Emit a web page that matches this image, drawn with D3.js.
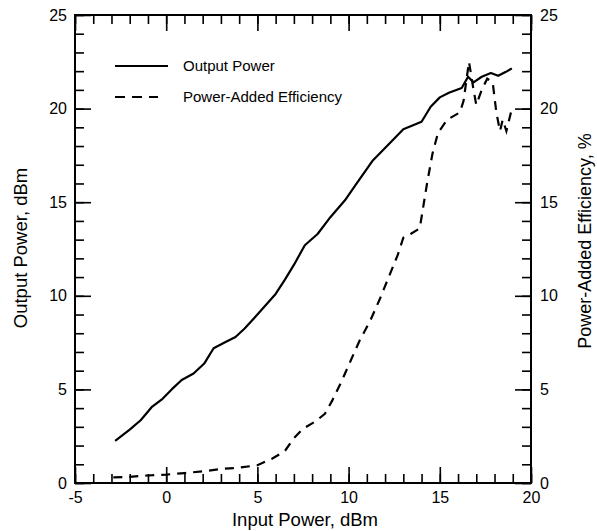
<!DOCTYPE html>
<html>
<head>
<meta charset="utf-8">
<script src="https://cdn.jsdelivr.net/npm/d3@7"></script>
<style>
  body { margin: 0; background: #fff; }
  svg text { font-family: "Liberation Sans", Arial, sans-serif; fill: #000; }
</style>
</head>
<body>
<svg id="chart" width="597" height="531"></svg>
<script>
// output power curve (input dBm -> output dBm)
var outPin = [-2.8, -2.0, -1.4, -0.8, -0.2, 0.3, 0.85, 1.5, 2.1, 2.6, 3.2, 3.8, 4.3, 5.0, 5.5, 6.0, 6.5, 7.0, 7.6, 8.3,
              9.0, 9.8, 10.3, 11.3, 12.2, 13.0, 13.5, 14.0, 14.5, 15.0, 15.5, 16.2, 16.55, 16.85, 17.3, 17.8, 18.2, 18.6, 18.95];
var outPower = [2.25, 2.85, 3.35, 4.05, 4.5, 5.0, 5.5, 5.85, 6.4, 7.2, 7.5, 7.8, 8.25, 9.0, 9.55, 10.1, 10.85, 11.65, 12.7, 13.3,
                14.2, 15.1, 15.8, 17.2, 18.1, 18.9, 19.1, 19.3, 20.1, 20.6, 20.85, 21.1, 21.7, 21.4, 21.7, 21.9, 21.75, 21.95, 22.15];

// power-added efficiency curve (input dBm -> %)
var paePin = [-2.9, -2.0, -1.0, 0.0, 1.0, 2.0, 3.0, 4.0, 5.0, 5.8, 6.5, 7.0, 7.5, 8.2, 8.7, 9.1, 9.6, 10.1, 10.6, 11.2,
              11.7, 12.2, 12.7, 13.0, 13.4, 13.9, 14.1, 14.3, 14.6, 14.9, 15.4, 16.1, 16.3, 16.6, 16.85, 17.0, 17.3, 17.6,
              17.9, 18.1, 18.3, 18.45, 18.65, 18.95];
var paeValue = [0.3, 0.33, 0.4, 0.45, 0.53, 0.62, 0.75, 0.82, 0.95, 1.3, 1.7, 2.4, 2.9, 3.3, 3.7, 4.4, 5.4, 6.5, 7.6, 8.7,
                9.8, 11.0, 12.2, 13.1, 13.3, 13.6, 14.8, 16.0, 17.6, 18.7, 19.4, 19.8, 20.4, 22.5, 21.0, 20.2, 21.0, 21.6,
                21.4, 19.8, 18.8, 19.4, 18.8, 20.0];

var xTicks = [-5, 0, 5, 10, 15, 20];
var yTicks = [0, 5, 10, 15, 20, 25];
var legendLabels = ["Output Power", "Power-Added Efficiency"];

var svg = d3.select("#chart");
// plot box (note: "top" is taken by window.top, so use pTop etc.)
var pLeft = 75, pRight = 531, pTop = 15, pBottom = 483;

var x = d3.scaleLinear().domain([-5, 20]).range([pLeft, pRight]);
var yL = d3.scaleLinear().domain([0, 25]).range([pBottom, pTop]);
var yR = d3.scaleLinear().domain([0, 25]).range([pBottom, pTop]); // PAE, %

var minorX = d3.range(-5, 21, 1);
var minorY = d3.range(0, 26, 1);
var plain = function (d) { return String(d); }; // hyphen minus like the original

function styleAxis(g) {
  g.select(".domain").remove();
  g.selectAll("line").attr("stroke", "#000").attr("stroke-width", 1.6);
  g.selectAll("text").attr("font-size", 16).attr("fill", "#000");
}

// minor ticks, all four sides, pointing inward
svg.append("g").attr("transform", "translate(0," + pBottom + ")")
  .call(d3.axisBottom(x).tickValues(minorX).tickSize(-9).tickFormat("")).call(styleAxis);
svg.append("g").attr("transform", "translate(0," + pTop + ")")
  .call(d3.axisTop(x).tickValues(minorX).tickSize(-9).tickFormat("")).call(styleAxis);
svg.append("g").attr("transform", "translate(" + pLeft + ",0)")
  .call(d3.axisLeft(yL).tickValues(minorY).tickSize(-9).tickFormat("")).call(styleAxis);
svg.append("g").attr("transform", "translate(" + pRight + ",0)")
  .call(d3.axisRight(yR).tickValues(minorY).tickSize(-9).tickFormat("")).call(styleAxis);

// major ticks + labels
svg.append("g").attr("transform", "translate(0," + pBottom + ")")
  .call(d3.axisBottom(x).tickValues(xTicks).tickSize(-16).tickPadding(9).tickFormat(plain)).call(styleAxis);
svg.append("g").attr("transform", "translate(0," + pTop + ")")
  .call(d3.axisTop(x).tickValues(xTicks).tickSize(-16).tickFormat("")).call(styleAxis);
svg.append("g").attr("transform", "translate(" + pLeft + ",0)")
  .call(d3.axisLeft(yL).tickValues(yTicks).tickSize(-16).tickPadding(8).tickFormat(plain)).call(styleAxis);
svg.append("g").attr("transform", "translate(" + pRight + ",0)")
  .call(d3.axisRight(yR).tickValues(yTicks).tickSize(-16).tickPadding(9).tickFormat(plain)).call(styleAxis);

// frame
svg.append("rect")
  .attr("x", pLeft).attr("y", pTop)
  .attr("width", pRight - pLeft).attr("height", pBottom - pTop)
  .attr("fill", "none").attr("stroke", "#000").attr("stroke-width", 2);

// curves
var outLine = d3.line().x(function (d, i) { return x(outPin[i]); }).y(function (d) { return yL(d); });
var paeLine = d3.line().x(function (d, i) { return x(paePin[i]); }).y(function (d) { return yR(d); });

svg.append("path").datum(outPower)
  .attr("d", outLine)
  .attr("fill", "none").attr("stroke", "#000").attr("stroke-width", 2.2)
  .attr("stroke-linejoin", "round");

svg.append("path").datum(paeValue)
  .attr("d", paeLine)
  .attr("fill", "none").attr("stroke", "#000").attr("stroke-width", 2.2)
  .attr("stroke-dasharray", "9,7");

// legend
var lg = svg.append("g");
legendLabels.forEach(function (lab, i) {
  var ly = 66 + i * 31;
  lg.append("line")
    .attr("x1", 115).attr("x2", i === 0 ? 168 : 158)
    .attr("y1", ly).attr("y2", ly)
    .attr("stroke", "#000").attr("stroke-width", 2)
    .attr("stroke-dasharray", i === 0 ? null : "10,7");
  lg.append("text")
    .attr("x", 183).attr("y", ly)
    .attr("dy", "0.35em")
    .attr("font-size", 15)
    .text(lab);
});

// axis titles
svg.append("text")
  .attr("x", (pLeft + pRight) / 2 + 2).attr("y", 526)
  .attr("text-anchor", "middle").attr("font-size", 18.5)
  .text("Input Power, dBm");

svg.append("text")
  .attr("transform", "translate(21,248) rotate(-90)")
  .attr("text-anchor", "middle").attr("dy", "0.35em").attr("font-size", 18.5)
  .text("Output Power, dBm");

svg.append("text")
  .attr("transform", "translate(585,241) rotate(-90)")
  .attr("text-anchor", "middle").attr("dy", "0.35em").attr("font-size", 18)
  .text("Power-Added Efficiency, %");
</script>
</body>
</html>
